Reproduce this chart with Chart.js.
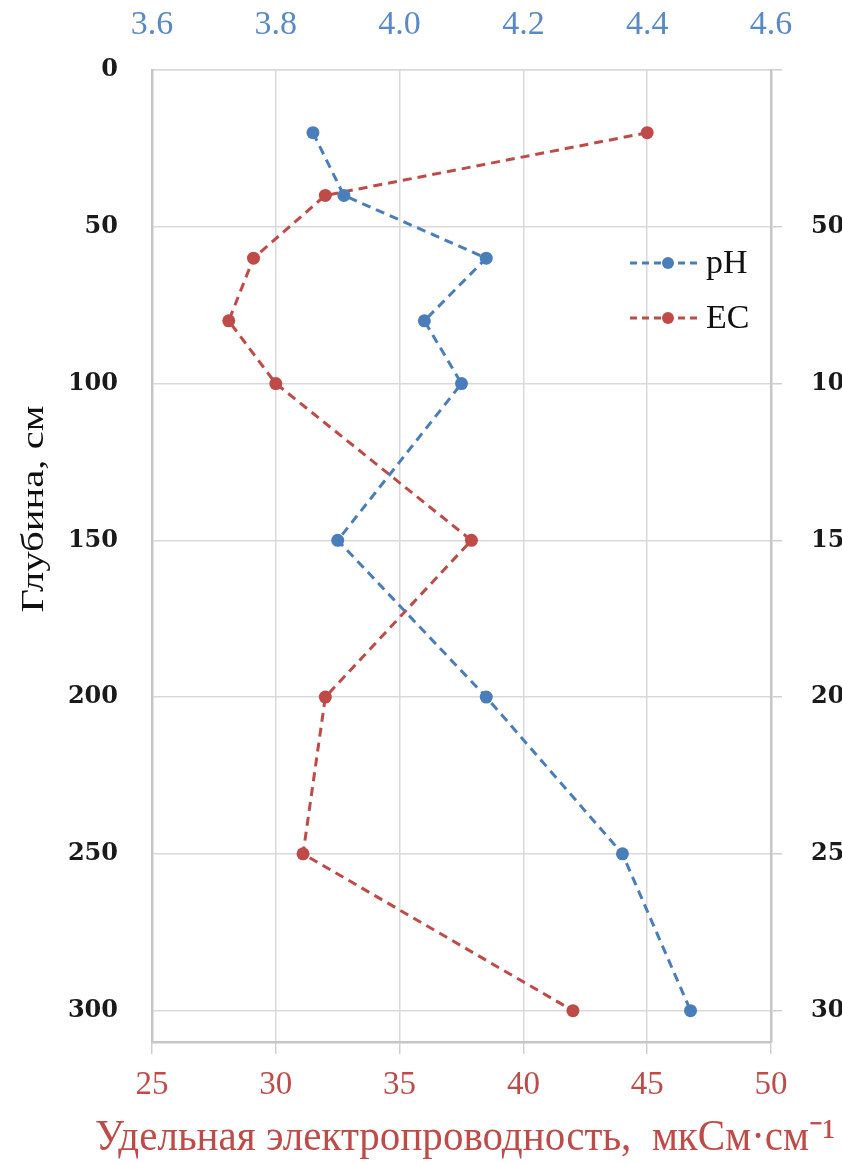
<!DOCTYPE html>
<html>
<head>
<meta charset="utf-8">
<script src="https://cdn.jsdelivr.net/npm/chart.js@4"></script>
<style>
    body { margin: 0; background: #fff; overflow: hidden; }
    #wrap { width: 842px; height: 1164px; overflow: hidden; }
</style>
</head>
<body>
<div id="wrap"><canvas id="chart" width="900" height="1164"></canvas></div>
<script>
// depth of each sample, cm
const depths = [20, 40, 60, 80, 100, 150, 200, 250, 300];
const phValues = [3.86, 3.91, 4.14, 4.04, 4.10, 3.90, 4.14, 4.36, 4.47];
const ecValues = [45.0, 32.0, 29.1, 28.1, 30.0, 37.9, 32.0, 31.1, 42.0];

const phTicks = [3.6, 3.8, 4.0, 4.2, 4.4, 4.6];
const ecTicks = [25, 30, 35, 40, 45, 50];
const depthTicks = [0, 50, 100, 150, 200, 250, 300];

const ecTitle = 'Удельная электропроводность,  мкСм·см⁻¹';
const depthTitle = 'Глубина, см';

const blue = '#4a7ebb';
const red = '#be4b48';
const serif = "'Liberation Serif', 'Times New Roman', serif";
const boldSerif = "'DejaVu Serif', serif";
const gridColor = '#d9d9d9';

function toPoints(values) {
    return values.map((v, i) => ({ x: v, y: depths[i] }));
}

// pick the label from the tick list by value (ticks come reversed on the depth axis)
function tickLabel(list, digits) {
    return v => {
        const t = list.find(t => Math.abs(t - v) < 1e-6);
        return t === undefined ? '' : t.toFixed(digits);
    };
}

// legend drawn inside the plot, like the Excel one
const inlineLegend = {
    id: 'inlineLegend',
    afterDatasetsDraw(chart) {
        const ctx = chart.ctx;
        const area = chart.chartArea;
        chart.data.datasets.forEach((ds, i) => {
            const y = area.top + 193 + i * 55;
            const x0 = area.right - 141;
            ctx.save();
            ctx.strokeStyle = ds.borderColor;
            ctx.lineWidth = 3;
            ctx.setLineDash([7, 5]);
            ctx.beginPath();
            ctx.moveTo(x0, y);
            ctx.lineTo(x0 + 70, y);
            ctx.stroke();
            ctx.setLineDash([]);
            ctx.fillStyle = ds.backgroundColor;
            ctx.beginPath();
            ctx.arc(x0 + 38, y, 6, 0, Math.PI * 2);
            ctx.fill();
            ctx.fillStyle = '#111';
            ctx.font = '34px ' + serif;
            ctx.textBaseline = 'middle';
            ctx.fillText(ds.label, x0 + 76, y + 1);
            ctx.restore();
        });
    }
};

// axis titles: the Excel ones run wider than the plot, so chart.js' own titles get squeezed
const axisTitles = {
    id: 'axisTitles',
    afterDraw(chart) {
        const ctx = chart.ctx;
        const area = chart.chartArea;

        function stretched(text, font, color, cx, cy, length, angle) {
            ctx.save();
            ctx.font = font;
            ctx.fillStyle = color;
            ctx.textAlign = 'center';
            ctx.textBaseline = 'middle';
            const w = ctx.measureText(text).width;
            ctx.translate(cx, cy);
            ctx.rotate(angle);
            ctx.scale(length / w, 1);
            ctx.fillText(text, 0, 0);
            ctx.restore();
        }

        stretched(ecTitle, '45px ' + serif, red,
            area.left + 313, area.bottom + 96, 740, 0);
        stretched(depthTitle, '31px ' + serif, '#111',
            35, area.top + 439, 207, -Math.PI / 2);
    }
};

new Chart(document.getElementById('chart'), {
    type: 'scatter',
    data: {
        datasets: [{
            label: 'pH',
            data: toPoints(phValues),
            xAxisID: 'xTop',
            yAxisID: 'y',
            showLine: true,
            borderColor: blue,
            backgroundColor: blue,
            borderWidth: 3,
            borderDash: [9, 6],
            pointRadius: 6.5,
            pointBorderWidth: 0
        }, {
            label: 'EC',
            data: toPoints(ecValues),
            xAxisID: 'x',
            yAxisID: 'y',
            showLine: true,
            borderColor: red,
            backgroundColor: red,
            borderWidth: 3,
            borderDash: [9, 6],
            pointRadius: 6.5,
            pointBorderWidth: 0
        }]
    },
    options: {
        responsive: false,
        animation: false,
        devicePixelRatio: 1,
        layout: { padding: 0 },
        plugins: {
            legend: { display: false },
            tooltip: { enabled: false }
        },
        scales: {
            x: {
                type: 'linear',
                position: 'bottom',
                min: 25,
                max: 50,
                ticks: {
                    stepSize: 5,
                    color: red,
                    font: { family: serif, size: 33 },
                    padding: 12,
                    callback: tickLabel(ecTicks, 0)
                },
                grid: { color: gridColor, lineWidth: 1.5, tickLength: 12, tickColor: '#cfcfcf' },
                border: { color: '#c6c6c6', width: 2.5 },
                afterFit: s => { s.height = 122; }
            },
            xTop: {
                type: 'linear',
                position: 'top',
                min: 3.6,
                max: 4.6,
                ticks: {
                    stepSize: 0.2,
                    color: '#5a8ac6',
                    font: { family: serif, size: 34 },
                    padding: 25,
                    callback: tickLabel(phTicks, 1)
                },
                grid: { display: false, drawTicks: false },
                border: { color: gridColor, width: 1.5 },
                afterFit: s => { s.height = 70; }
            },
            y: {
                type: 'linear',
                position: 'left',
                reverse: true,
                min: 0,
                max: 310,
                ticks: {
                    stepSize: 50,
                    includeBounds: false,
                    color: '#1a1a1a',
                    font: { family: boldSerif, size: 24, weight: 'bold' },
                    padding: 34,
                    callback: tickLabel(depthTicks, 0)
                },
                grid: { color: gridColor, lineWidth: 1.5, drawTicks: false },
                border: { color: '#c6c6c6', width: 2.5 },
                afterFit: s => { s.width = 152; }
            },
            yRight: {
                type: 'linear',
                position: 'right',
                reverse: true,
                min: 0,
                max: 310,
                ticks: {
                    stepSize: 50,
                    includeBounds: false,
                    color: '#1a1a1a',
                    font: { family: boldSerif, size: 24, weight: 'bold' },
                    padding: 29,
                    // the neighbouring panel shows no label at 0
                    callback: v => (v === 0 ? '' : tickLabel(depthTicks, 0)(v))
                },
                grid: { drawOnChartArea: false, tickLength: 11, tickColor: '#cfcfcf', lineWidth: 1.5 },
                border: { color: '#c6c6c6', width: 2.5 },
                afterFit: s => { s.width = 129; }
            }
        }
    },
    plugins: [inlineLegend, axisTitles]
});
</script>
</body>
</html>
